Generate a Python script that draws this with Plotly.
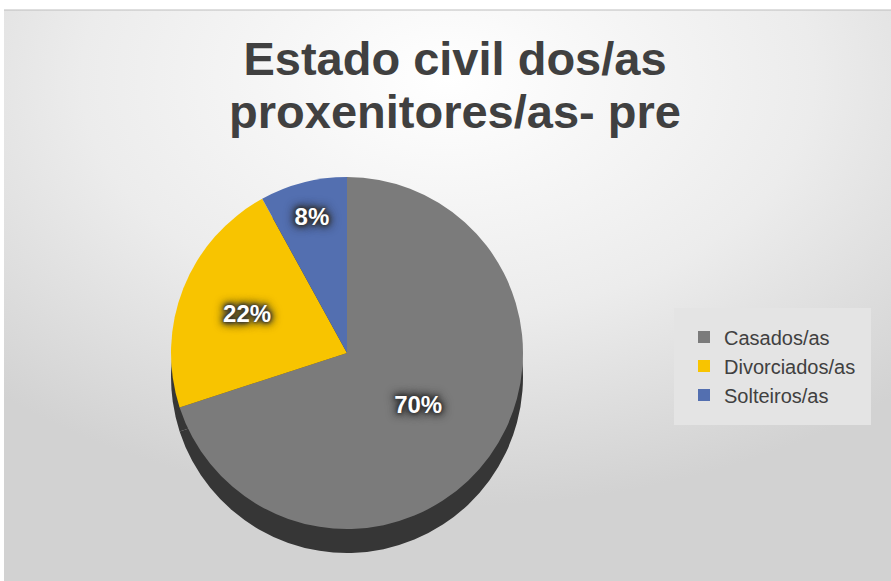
import base64
import plotly.graph_objects as go

categories = ["Casados/as", "Divorciados/as", "Solteiros/as"]
values = [70, 22, 8]
slice_colors = ["#7b7b7b", "#f8c400", "#536fb0"]
side_colors = ["#363636", "#363636", "#363636"]

title_lines = ["Estado civil dos/as", "proxenitores/as- pre"]

W, H = 891, 581

# background gradient (decorative)
svg = (
    '<svg xmlns="http://www.w3.org/2000/svg" width="887" height="571" preserveAspectRatio="none">'
    '<defs><radialGradient id="g" cx="50%" cy="12%" r="75%" fx="50%" fy="12%">'
    '<stop offset="0" stop-color="#ffffff"/><stop offset="0.55" stop-color="#ececec"/>'
    '<stop offset="1" stop-color="#d2d2d2"/></radialGradient></defs>'
    '<rect width="887" height="571" fill="url(#g)"/></svg>'
)
bg_uri = "data:image/svg+xml;base64," + base64.b64encode(svg.encode()).decode()

cx, cy, d, depth = 347, 353, 352, 24


def dom(cx_, cy_, d_):
    return dict(
        x=[(cx_ - d_ / 2) / W, (cx_ + d_ / 2) / W],
        y=[(H - cy_ - d_ / 2) / H, (H - cy_ + d_ / 2) / H],
    )


fig = go.Figure()
# darker "side" of the 3D pie
fig.add_trace(go.Pie(
    labels=categories, values=values, sort=False, direction="clockwise", rotation=0,
    marker=dict(colors=side_colors, line=dict(width=0)),
    textinfo="none", hoverinfo="skip", showlegend=False,
    domain=dom(cx, cy + depth, d),
))
fig.add_trace(go.Pie(
    labels=categories, values=values, sort=False, direction="clockwise", rotation=0,
    marker=dict(colors=slice_colors, line=dict(width=0)),
    textinfo="percent", textposition="inside", insidetextorientation="horizontal",
    texttemplate="%{percent:.0%}",
    textfont=dict(family="Liberation Sans, Arial, sans-serif", size=24, color="white",
                  weight="bold",
                  shadow="0 0 3px #333, 0 0 5px #333, 0 0 7px #333, 0 0 10px #333, 0 0 12px #333"),
    domain=dom(cx, cy, d),
))

span = '<span style="font-size:47px">{}</span>'
fig.update_layout(
    width=W, height=H,
    margin=dict(l=0, r=0, t=0, b=0),
    paper_bgcolor="white",
    plot_bgcolor="white",
    font=dict(family="Liberation Sans, Arial, sans-serif", color="#404040"),
    title=dict(
        text="<br>".join(span.format(t) for t in title_lines),
        font=dict(size=41, color="#404040", family="Liberation Sans, Arial, sans-serif",
                  weight="bold"),
        x=455 / W, xanchor="center", y=1 - 75 / H, yanchor="top",
    ),
    legend=dict(
        x=674 / W, xanchor="left", y=(H - 366) / H, yanchor="middle",
        bgcolor="#e4e4e4", bordercolor="#e4e4e4", borderwidth=10,
        font=dict(size=20, color="#404040", family="Liberation Sans, Arial, sans-serif"),
        traceorder="normal",
    ),
    images=[dict(
        source=bg_uri, xref="paper", yref="paper",
        x=4 / W, y=1 - 10 / H, sizex=1 - 4 / W, sizey=1 - 10 / H,
        xanchor="left", yanchor="top", sizing="stretch", layer="below",
    )],
    shapes=[dict(type="line", xref="paper", yref="paper",
                 x0=4 / W, x1=1, y0=1 - 10 / H, y1=1 - 10 / H,
                 line=dict(color="#bdbdbd", width=1))],
)

fig.write_html("out.html", config={"displayModeBar": False},
               post_script="document.body.style.margin='0';")
